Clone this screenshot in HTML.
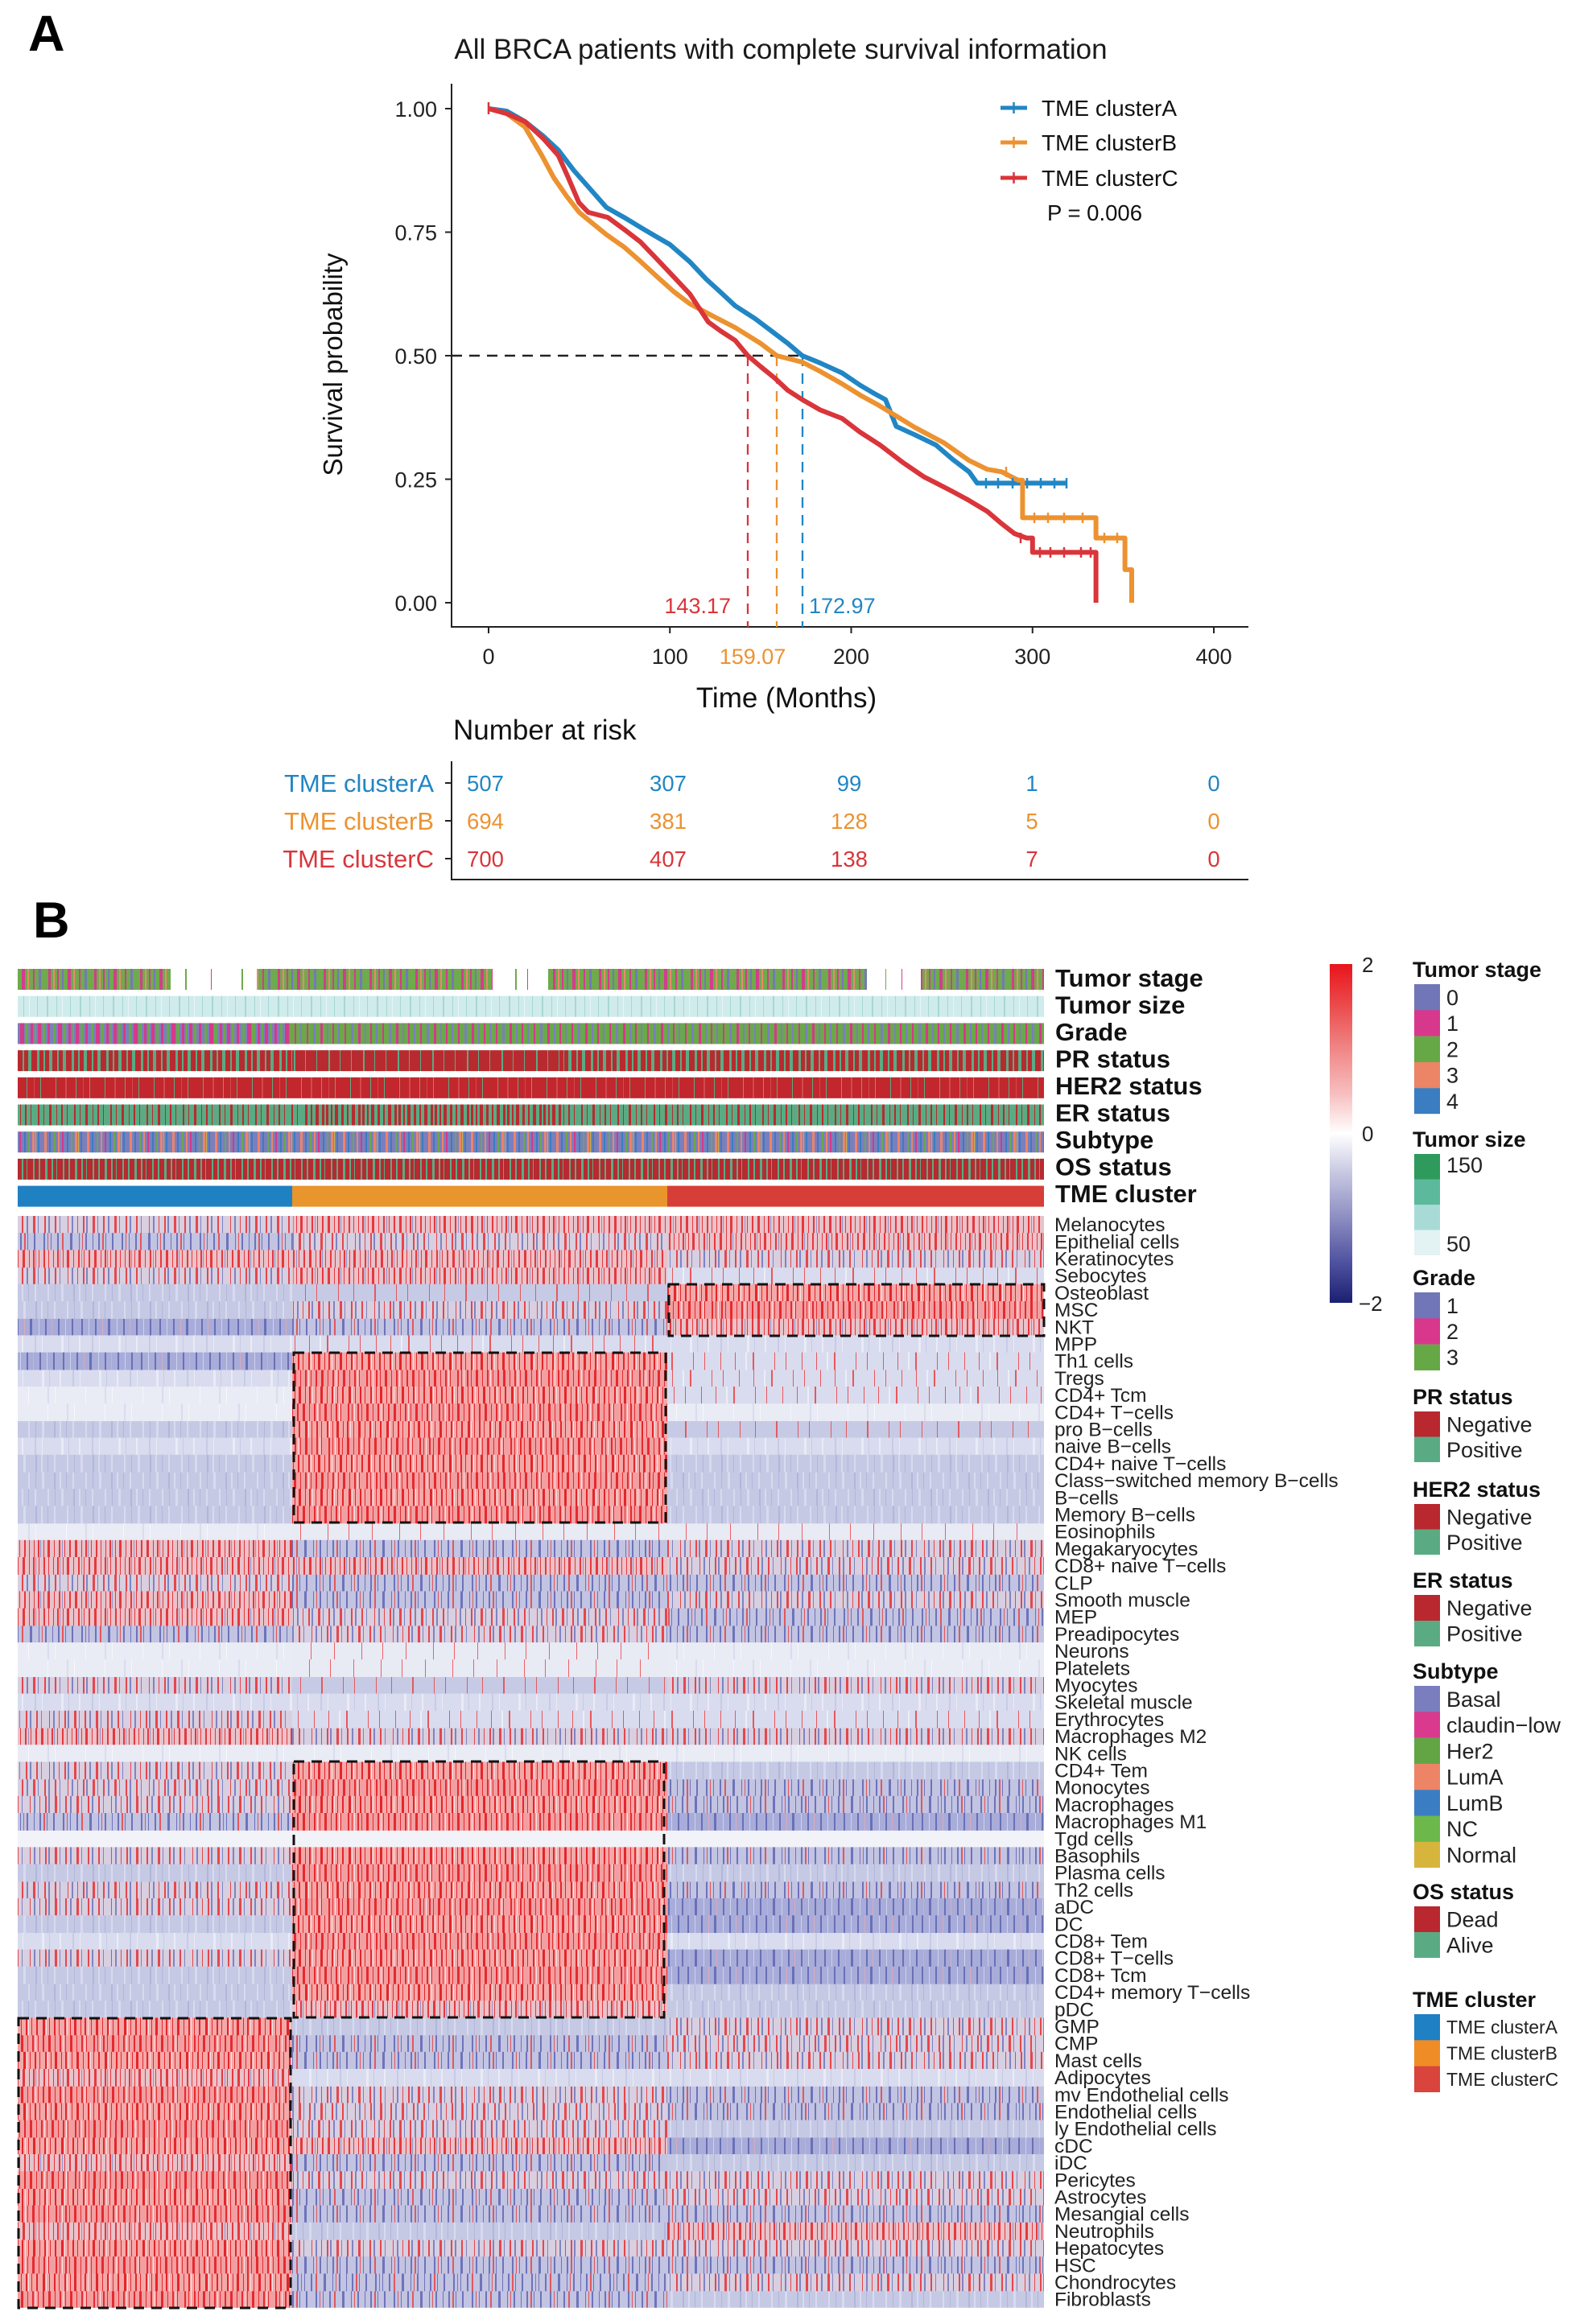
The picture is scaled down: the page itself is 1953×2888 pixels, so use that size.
<!DOCTYPE html>
<html><head><meta charset="utf-8"><style>
html,body{margin:0;padding:0;background:#fff;}
svg{display:block;}
.R1{fill:url(#R1)}.R2{fill:url(#R2)}.P{fill:url(#P)}.M{fill:url(#M)}.MB{fill:url(#MB)}.B{fill:url(#B)}
.L2{fill:url(#L2)}.L1{fill:url(#L1)}.L0{fill:url(#L0)}.W{fill:#f2f3f8}.L0r{fill:url(#L0r)}.L1r{fill:url(#L1r)}.L2r{fill:url(#L2r)}
</style></head><body>
<svg xmlns="http://www.w3.org/2000/svg" width="1953" height="2888" viewBox="0 0 1953 2888" font-family="'Liberation Sans', Arial, sans-serif">
<defs>
<pattern id="R1" patternUnits="userSpaceOnUse" width="101" height="1"><rect width="101" height="1" fill="#f4a9a9"/><g fill="#e3262b"><rect x="2" width="2" height="1"/><rect x="9" width="1" height="1"/><rect x="14" width="3" height="1"/><rect x="22" width="1" height="1"/><rect x="27" width="2" height="1"/><rect x="35" width="1" height="1"/><rect x="41" width="3" height="1"/><rect x="49" width="1" height="1"/><rect x="55" width="2" height="1"/><rect x="62" width="1" height="1"/><rect x="68" width="2" height="1"/><rect x="76" width="3" height="1"/><rect x="84" width="1" height="1"/><rect x="90" width="2" height="1"/><rect x="96" width="1" height="1"/></g><g fill="#fbe3e3"><rect x="5" width="1" height="1"/><rect x="31" width="1" height="1"/><rect x="58" width="1" height="1"/><rect x="80" width="1" height="1"/></g></pattern>
<pattern id="R2" patternUnits="userSpaceOnUse" width="113" height="1"><rect width="113" height="1" fill="#f29fa1"/><g fill="#e52a2f"><rect x="3" width="2" height="1"/><rect x="8" width="1" height="1"/><rect x="15" width="2" height="1"/><rect x="20" width="1" height="1"/><rect x="26" width="3" height="1"/><rect x="34" width="1" height="1"/><rect x="40" width="2" height="1"/><rect x="47" width="1" height="1"/><rect x="53" width="2" height="1"/><rect x="60" width="3" height="1"/><rect x="68" width="1" height="1"/><rect x="74" width="2" height="1"/><rect x="81" width="1" height="1"/><rect x="87" width="3" height="1"/><rect x="95" width="1" height="1"/><rect x="101" width="2" height="1"/><rect x="107" width="1" height="1"/></g><g fill="#fce6e6"><rect x="11" width="1" height="1"/><rect x="44" width="1" height="1"/><rect x="78" width="1" height="1"/><rect x="105" width="1" height="1"/></g></pattern>
<pattern id="P" patternUnits="userSpaceOnUse" width="89" height="1"><rect width="89" height="1" fill="#e9c2ca"/><g fill="#e4393e"><rect x="0" width="1" height="1"/><rect x="5" width="2" height="1"/><rect x="12" width="1" height="1"/><rect x="17" width="3" height="1"/><rect x="25" width="1" height="1"/><rect x="31" width="2" height="1"/><rect x="38" width="1" height="1"/><rect x="44" width="2" height="1"/><rect x="51" width="3" height="1"/><rect x="59" width="1" height="1"/><rect x="64" width="2" height="1"/><rect x="71" width="1" height="1"/><rect x="77" width="2" height="1"/><rect x="83" width="1" height="1"/></g><g fill="#9094c9"><rect x="8" width="1" height="1"/><rect x="35" width="1" height="1"/><rect x="67" width="1" height="1"/></g></pattern>
<pattern id="M" patternUnits="userSpaceOnUse" width="101" height="1"><rect width="101" height="1" fill="#d8cfe0"/><g fill="#e4474c"><rect x="2" width="2" height="1"/><rect x="14" width="3" height="1"/><rect x="27" width="2" height="1"/><rect x="41" width="3" height="1"/><rect x="55" width="2" height="1"/><rect x="68" width="2" height="1"/><rect x="84" width="1" height="1"/><rect x="96" width="1" height="1"/></g><g fill="#7f84c0"><rect x="6" width="2" height="1"/><rect x="20" width="1" height="1"/><rect x="33" width="2" height="1"/><rect x="47" width="1" height="1"/><rect x="60" width="2" height="1"/><rect x="74" width="1" height="1"/><rect x="89" width="2" height="1"/></g></pattern>
<pattern id="MB" patternUnits="userSpaceOnUse" width="97" height="1"><rect width="97" height="1" fill="#c2c4e2"/><g fill="#e1585c"><rect x="9" width="1" height="1"/><rect x="27" width="2" height="1"/><rect x="52" width="1" height="1"/><rect x="77" width="2" height="1"/></g><g fill="#6e73b9"><rect x="4" width="2" height="1"/><rect x="13" width="1" height="1"/><rect x="21" width="2" height="1"/><rect x="37" width="3" height="1"/><rect x="48" width="1" height="1"/><rect x="56" width="2" height="1"/><rect x="65" width="1" height="1"/><rect x="72" width="2" height="1"/><rect x="81" width="1" height="1"/><rect x="89" width="2" height="1"/></g></pattern>
<pattern id="B" patternUnits="userSpaceOnUse" width="97" height="1"><rect width="97" height="1" fill="#a8acd9"/><g fill="#6a6fb7"><rect x="4" width="2" height="1"/><rect x="21" width="2" height="1"/><rect x="37" width="3" height="1"/><rect x="56" width="2" height="1"/><rect x="72" width="2" height="1"/><rect x="89" width="2" height="1"/></g><g fill="#cfd2eb"><rect x="13" width="1" height="1"/><rect x="48" width="1" height="1"/><rect x="81" width="1" height="1"/></g><g fill="#dca9bd"><rect x="30" width="1" height="1"/><rect x="64" width="1" height="1"/></g></pattern>
<pattern id="L2" patternUnits="userSpaceOnUse" width="71" height="1"><rect width="71" height="1" fill="#c5c9e4"/><g fill="#d8dbef"><rect x="3" width="2" height="1"/><rect x="19" width="2" height="1"/><rect x="35" width="2" height="1"/><rect x="52" width="3" height="1"/></g><g fill="#b2b6db"><rect x="11" width="1" height="1"/><rect x="44" width="1" height="1"/><rect x="67" width="2" height="1"/></g></pattern>
<pattern id="L1" patternUnits="userSpaceOnUse" width="71" height="1"><rect width="71" height="1" fill="#d9dcee"/><g fill="#e9ebf6"><rect x="3" width="2" height="1"/><rect x="28" width="1" height="1"/><rect x="52" width="3" height="1"/></g><g fill="#c7cbe6"><rect x="19" width="2" height="1"/><rect x="61" width="1" height="1"/></g></pattern>
<pattern id="L0" patternUnits="userSpaceOnUse" width="71" height="1"><rect width="71" height="1" fill="#e9ebf5"/><g fill="#f6f7fb"><rect x="11" width="1" height="1"/><rect x="44" width="1" height="1"/></g><rect x="35" width="2" height="1" fill="#dadcee"/></pattern>
<pattern id="L0r" patternUnits="userSpaceOnUse" width="89" height="1"><rect width="89" height="1" fill="#e8eaf4"/><g fill="#ec6266"><rect x="17" width="1" height="1"/><rect x="51" width="1" height="1"/><rect x="77" width="1" height="1"/></g></pattern>
<pattern id="L1r" patternUnits="userSpaceOnUse" width="101" height="1"><rect width="101" height="1" fill="#d9dcee"/><g fill="#e8575c"><rect x="9" width="1" height="1"/><rect x="27" width="1" height="1"/><rect x="49" width="2" height="1"/><rect x="76" width="1" height="1"/><rect x="90" width="1" height="1"/></g><rect x="40" width="2" height="1" fill="#eceef7"/></pattern>
<pattern id="L2r" patternUnits="userSpaceOnUse" width="113" height="1"><rect width="113" height="1" fill="#c6cae5"/><g fill="#e55a5e"><rect x="15" width="1" height="1"/><rect x="34" width="1" height="1"/><rect x="60" width="2" height="1"/><rect x="87" width="1" height="1"/><rect x="101" width="1" height="1"/></g></pattern>

<pattern id="TS" patternUnits="userSpaceOnUse" width="57" height="40"><rect width="57" height="40" fill="#6faa4c"/><g fill="#d43d8c"><rect x="3" width="3" height="40"/><rect x="14" width="2" height="40"/><rect x="27" width="4" height="40"/><rect x="41" width="2" height="40"/></g><g fill="#e98a6c"><rect x="9" width="2" height="40"/><rect x="34" width="2" height="40"/></g><g fill="#7479b8"><rect x="20" width="2" height="40"/><rect x="48" width="3" height="40"/></g></pattern>
<pattern id="TSZ" patternUnits="userSpaceOnUse" width="41" height="40"><rect width="41" height="40" fill="#d0ebeb"/><g fill="#a7d7d3"><rect x="5" width="1" height="40"/><rect x="17" width="2" height="40"/><rect x="29" width="1" height="40"/></g><rect x="36" width="1" height="40" fill="#e8f5f5"/></pattern>
<pattern id="GR1" patternUnits="userSpaceOnUse" width="47" height="40"><rect width="47" height="40" fill="#7b7fbc"/><g fill="#d5398b"><rect x="0" width="4" height="40"/><rect x="12" width="3" height="40"/><rect x="25" width="5" height="40"/><rect x="38" width="3" height="40"/></g><g fill="#6aa84a"><rect x="6" width="3" height="40"/><rect x="19" width="3" height="40"/><rect x="31" width="4" height="40"/><rect x="43" width="2" height="40"/></g></pattern>
<pattern id="GR2" patternUnits="userSpaceOnUse" width="47" height="40"><rect width="47" height="40" fill="#6aa84a"/><g fill="#d5398b"><rect x="5" width="2" height="40"/><rect x="22" width="3" height="40"/><rect x="37" width="2" height="40"/></g><g fill="#7b7fbc"><rect x="13" width="3" height="40"/><rect x="30" width="2" height="40"/><rect x="44" width="2" height="40"/></g></pattern>
<pattern id="PR1" patternUnits="userSpaceOnUse" width="43" height="40"><rect width="43" height="40" fill="#b72b30"/><g fill="#5aab83"><rect x="3" width="3" height="40"/><rect x="11" width="2" height="40"/><rect x="18" width="4" height="40"/><rect x="28" width="2" height="40"/><rect x="35" width="4" height="40"/></g></pattern>
<pattern id="PR2" patternUnits="userSpaceOnUse" width="43" height="40"><rect width="43" height="40" fill="#b72b30"/><g fill="#5aab83"><rect x="6" width="1" height="40"/><rect x="21" width="2" height="40"/><rect x="35" width="1" height="40"/></g></pattern>
<pattern id="HER" patternUnits="userSpaceOnUse" width="61" height="40"><rect width="61" height="40" fill="#c1272d"/><g fill="#5aab83"><rect x="8" width="1" height="40"/><rect x="33" width="1" height="40"/><rect x="50" width="1" height="40"/></g><g fill="#d14a4f"><rect x="20" width="2" height="40"/><rect x="42" width="1" height="40"/></g></pattern>
<pattern id="ER1" patternUnits="userSpaceOnUse" width="45" height="40"><rect width="45" height="40" fill="#5aab83"/><g fill="#b72b30"><rect x="2" width="2" height="40"/><rect x="9" width="1" height="40"/><rect x="16" width="3" height="40"/><rect x="25" width="1" height="40"/><rect x="31" width="2" height="40"/><rect x="38" width="1" height="40"/></g></pattern>
<pattern id="ER2" patternUnits="userSpaceOnUse" width="45" height="40"><rect width="45" height="40" fill="#5aab83"/><g fill="#b72b30"><rect x="0" width="3" height="40"/><rect x="6" width="2" height="40"/><rect x="11" width="4" height="40"/><rect x="19" width="3" height="40"/><rect x="26" width="2" height="40"/><rect x="32" width="4" height="40"/><rect x="40" width="3" height="40"/></g></pattern>
<pattern id="SUB" patternUnits="userSpaceOnUse" width="53" height="40"><rect width="53" height="40" fill="#7b7fbc"/><g fill="#ec8468"><rect x="2" width="3" height="40"/><rect x="19" width="2" height="40"/><rect x="40" width="3" height="40"/></g><g fill="#3a7cc2"><rect x="8" width="2" height="40"/><rect x="30" width="2" height="40"/><rect x="47" width="2" height="40"/></g><g fill="#6aa84a"><rect x="14" width="2" height="40"/><rect x="35" width="2" height="40"/></g><rect x="24" width="2" height="40" fill="#d5398b"/><rect x="44" width="1" height="40" fill="#d6b23a"/></pattern>
<pattern id="OS" patternUnits="userSpaceOnUse" width="37" height="40"><rect width="37" height="40" fill="#b62a30"/><g fill="#5aab83"><rect x="4" width="2" height="40"/><rect x="11" width="2" height="40"/><rect x="19" width="3" height="40"/><rect x="27" width="2" height="40"/><rect x="33" width="1" height="40"/></g></pattern>

<linearGradient id="cbar" x1="0" y1="0" x2="0" y2="1">
<stop offset="0" stop-color="#e8141c"/><stop offset="0.12" stop-color="#eb4a4b"/><stop offset="0.25" stop-color="#f08686"/><stop offset="0.38" stop-color="#f7bdbd"/><stop offset="0.5" stop-color="#ffffff"/><stop offset="0.62" stop-color="#c6c6e1"/><stop offset="0.75" stop-color="#8c8dc1"/><stop offset="0.88" stop-color="#4f52a0"/><stop offset="1" stop-color="#1a2070"/>
</linearGradient>
</defs>

<rect width="1953" height="2888" fill="#ffffff"/>

<!-- ================= PANEL A ================= -->
<text x="35" y="63" font-size="63" font-weight="bold" fill="#000">A</text>
<text x="970" y="73" font-size="35" text-anchor="middle" fill="#1a1a1a">All BRCA patients with complete survival information</text>

<g stroke="#222" stroke-width="2" fill="none">
<path d="M561 104V780M560 779H1551"/>
<path d="M553 135H561M553 288.5H561M553 442H561M553 595.5H561M553 749H561"/>
<path d="M607 779V787M832.25 779V787M1057.5 779V787M1282.75 779V787M1508 779V787"/>
</g>
<g font-size="27" fill="#222" text-anchor="end">
<text x="543" y="145">1.00</text><text x="543" y="298.5">0.75</text><text x="543" y="452">0.50</text><text x="543" y="605.5">0.25</text><text x="543" y="759">0.00</text>
</g>
<g font-size="27" fill="#222" text-anchor="middle">
<text x="607" y="825">0</text><text x="832.25" y="825">100</text><text x="1057.5" y="825">200</text><text x="1282.75" y="825">300</text><text x="1508" y="825">400</text>
</g>
<text x="977" y="879" font-size="35" text-anchor="middle" fill="#111">Time (Months)</text>
<text x="425" y="453" font-size="33" text-anchor="middle" fill="#111" transform="rotate(-90 425 453)">Survival probability</text>

<path d="M561 442H997" stroke="#222" stroke-width="2.5" stroke-dasharray="13,9" fill="none"/>
<path d="M929 442V779" stroke="#d9353a" stroke-width="2.3" stroke-dasharray="13,9"/>
<path d="M965 442V779" stroke="#ec9230" stroke-width="2.3" stroke-dasharray="13,9"/>
<path d="M997 442V779" stroke="#2186c4" stroke-width="2.3" stroke-dasharray="13,9"/>

<g fill="none" stroke-width="6" stroke-linejoin="round">
<path stroke="#2186c4" d="M607,135 L629.5,138.1 L652.1,151 L674.6,168.8 L693.7,186.6 L712.9,211.8 L734.5,236.3 L753.4,257.8 L775.3,270.1 L798.5,284.2 L816.3,294.6 L832.3,303.9 L857,325.3 L877.3,346.8 L897.6,365.3 L913.3,380 L938.1,396 L958.4,411.3 L978.7,426.7 L996.7,442 L1019.2,451.2 L1046.2,463.5 L1068.8,478.8 L1084.5,488.1 L1100.1,496.6 L1113.4,529.8 L1136.3,540.2 L1162.9,553.1 L1183.6,570.9 L1203.9,586.3 L1214,600.4 L1325.5,600.4"/>
<path stroke="#ec9230" d="M607,135 L629.5,141.1 L652.1,157.7 L673.2,193.3 L688.1,221 L703.9,243.7 L719.6,263.9 L734.5,276.2 L753.4,291.6 L775.3,306.9 L796.2,325.3 L816.3,343.8 L836.8,362.2 L857,377.5 L880,389.8 L913.3,407 L944.9,426.7 L965.1,442 L996.7,450 L1019.2,461.6 L1046.2,477 L1068.8,491.1 L1091.3,503.4 L1113.4,516.9 L1136.3,531 L1172.4,550.1 L1203.9,572.2 L1226.4,583.2 L1244.5,586.3 L1264.7,596.7 L1270.4,596.7 V643.4 H1361.6 V668.6 H1397.6 V707.9 H1406 V749"/>
<path stroke="#d9353a" d="M607,135 L629.5,141.1 L652.1,151 L674.6,171.8 L693.7,193.3 L706.1,221 L719.2,251.7 L730.9,263.9 L755,270.1 L775.9,285.4 L795.8,300.8 L816.5,322.3 L836.8,343.8 L857,365.3 L880,400.2 L895.3,411.3 L913.3,423 L929.1,442 L944.9,455.5 L962.9,470.2 L978.7,485 L996.7,496.6 L1019.2,509.5 L1046.2,520 L1068.8,537.2 L1093.5,553.1 L1122.4,575.2 L1147.6,592.4 L1163.4,600.4 L1183.6,610.9 L1203.9,621.9 L1226.4,635.4 L1244.5,650.8 L1260.2,663 L1275.3,668.6 L1282.8,668.6 V686.4 H1361.6 V749"/>
</g>
<g stroke-width="2.5" fill="none">
<path stroke="#2186c4" d="M1225 594v13M1240 594v13M1258 594v13M1276 594v13M1293 594v13M1310 594v13M1325 594v13"/>
<path stroke="#ec9230" d="M1250 580v13M1285 637v13M1302 637v13M1322 637v13M1345 637v13M1372 662v13M1388 662v13"/>
<path stroke="#d9353a" d="M607 127v15M1268 662v13M1292 680v13M1305 680v13M1322 680v13M1343 680v13M1355 680v13"/>
</g>

<text x="908" y="762" font-size="27" text-anchor="end" fill="#d9353a">143.17</text>
<text x="1005" y="762" font-size="27" fill="#2186c4">172.97</text>
<text x="935" y="825" font-size="27" text-anchor="middle" fill="#ec9230">159.07</text>

<g stroke-width="5">
<path stroke="#2186c4" d="M1243 134H1276"/><path stroke="#2186c4" stroke-width="2.5" d="M1259.5 127v14"/>
<path stroke="#ec9230" d="M1243 177H1276"/><path stroke="#ec9230" stroke-width="2.5" d="M1259.5 170v14"/>
<path stroke="#d9353a" d="M1243 221H1276"/><path stroke="#d9353a" stroke-width="2.5" d="M1259.5 214v14"/>
</g>
<g font-size="28" fill="#111">
<text x="1294" y="144">TME clusterA</text>
<text x="1294" y="187">TME clusterB</text>
<text x="1294" y="231">TME clusterC</text>
<text x="1301" y="274" font-size="27.5">P = 0.006</text>
</g>

<text x="563" y="919" font-size="35" fill="#111">Number at risk</text>
<path d="M561 946V1094M560 1093H1551M553 973H561M553 1020H561M553 1067H561" stroke="#222" stroke-width="2" fill="none"/>
<g font-size="31" text-anchor="end">
<text x="539" y="984" fill="#2186c4">TME clusterA</text>
<text x="539" y="1031" fill="#ec9230">TME clusterB</text>
<text x="539" y="1078" fill="#d9353a">TME clusterC</text>
</g>
<g font-size="27.5" text-anchor="middle">
<g fill="#2186c4"><text x="603" y="983">507</text><text x="830" y="983">307</text><text x="1055" y="983">99</text><text x="1282" y="983">1</text><text x="1508" y="983">0</text></g>
<g fill="#ec9230"><text x="603" y="1030">694</text><text x="830" y="1030">381</text><text x="1055" y="1030">128</text><text x="1282" y="1030">5</text><text x="1508" y="1030">0</text></g>
<g fill="#d9353a"><text x="603" y="1077">700</text><text x="830" y="1077">407</text><text x="1055" y="1077">138</text><text x="1282" y="1077">7</text><text x="1508" y="1077">0</text></g>
</g>

<!-- ================= PANEL B ================= -->
<text x="41" y="1165" font-size="63" font-weight="bold" fill="#000">B</text>

<rect x="22" y="1204" width="1275" height="26" fill="url(#TS)"/>
<g fill="#fff"><rect x="212" y="1204" width="107" height="26"/><rect x="612" y="1204" width="69" height="26"/><rect x="1077" y="1204" width="67" height="26"/></g>
<g fill="#6faa4c"><rect x="230" y="1204" width="2" height="26"/><rect x="300" y="1204" width="2" height="26"/><rect x="640" y="1204" width="2" height="26"/><rect x="1100" y="1204" width="1" height="26"/></g>
<g fill="#d43d8c"><rect x="262" y="1204" width="1" height="26"/><rect x="655" y="1204" width="1" height="26"/><rect x="1120" y="1204" width="1" height="26"/></g>
<rect x="22" y="1237.7" width="1275" height="26" fill="url(#TSZ)"/>
<rect x="22" y="1271.4" width="341" height="26" fill="url(#GR1)"/>
<rect x="363" y="1271.4" width="934" height="26" fill="url(#GR2)"/>
<rect x="22" y="1305.1" width="341" height="26" fill="url(#PR1)"/>
<rect x="363" y="1305.1" width="337" height="26" fill="url(#PR2)"/>
<rect x="700" y="1305.1" width="597" height="26" fill="url(#PR1)"/>
<rect x="22" y="1338.8" width="1275" height="26" fill="url(#HER)"/>
<rect x="22" y="1372.5" width="353" height="26" fill="url(#ER1)"/>
<rect x="375" y="1372.5" width="325" height="26" fill="url(#ER2)"/>
<rect x="700" y="1372.5" width="597" height="26" fill="url(#ER1)"/>
<rect x="22" y="1406.2" width="1275" height="26" fill="url(#SUB)"/>
<rect x="22" y="1439.9" width="1275" height="26" fill="url(#OS)"/>
<rect x="22" y="1473.6" width="341" height="26" fill="#1f80c2"/>
<rect x="363" y="1473.6" width="466" height="26" fill="#e8952e"/>
<rect x="829" y="1473.6" width="468" height="26" fill="#d63e37"/>

<g font-size="31" font-weight="bold" fill="#111">
<text x="1311" y="1226">Tumor stage</text>
<text x="1311" y="1259.5">Tumor size</text>
<text x="1311" y="1293">Grade</text>
<text x="1311" y="1326.5">PR status</text>
<text x="1311" y="1360">HER2 status</text>
<text x="1311" y="1393.5">ER status</text>
<text x="1311" y="1427">Subtype</text>
<text x="1311" y="1460.5">OS status</text>
<text x="1311" y="1494">TME cluster</text>
</g>

<!-- heatmap -->
<g transform="translate(0,1511) scale(1,21.2)">
<g>
<rect class="M" x="22" y="0" width="341" height="1.03"/><rect class="P" x="363" y="0" width="466" height="1.03"/><rect class="P" x="829" y="0" width="468" height="1.03"/>
<rect class="M" x="22" y="3" width="341" height="1.03"/><rect class="P" x="363" y="3" width="466" height="1.03"/><rect class="L1r" x="829" y="3" width="468" height="1.03"/>
<rect class="B" x="22" y="6" width="341" height="1.03"/><rect class="MB" x="363" y="6" width="466" height="1.03"/><rect class="P" x="829" y="6" width="468" height="1.03"/>
<rect class="L1" x="22" y="9" width="341" height="1.03"/><rect class="R2" x="363" y="9" width="466" height="1.03"/><rect class="L1r" x="829" y="9" width="468" height="1.03"/>
<rect class="L2" x="22" y="12" width="341" height="1.03"/><rect class="R1" x="363" y="12" width="466" height="1.03"/><rect class="L2r" x="829" y="12" width="468" height="1.03"/>
<rect class="L2" x="22" y="15" width="341" height="1.03"/><rect class="R2" x="363" y="15" width="466" height="1.03"/><rect class="L2" x="829" y="15" width="468" height="1.03"/>
<rect class="L0" x="22" y="18" width="341" height="1.03"/><rect class="L0r" x="363" y="18" width="466" height="1.03"/><rect class="L0r" x="829" y="18" width="468" height="1.03"/>
<rect class="M" x="22" y="21" width="341" height="1.03"/><rect class="MB" x="363" y="21" width="466" height="1.03"/><rect class="MB" x="829" y="21" width="468" height="1.03"/>
<rect class="MB" x="22" y="24" width="341" height="1.03"/><rect class="M" x="363" y="24" width="466" height="1.03"/><rect class="MB" x="829" y="24" width="468" height="1.03"/>
<rect class="M" x="22" y="27" width="341" height="1.03"/><rect class="L2r" x="363" y="27" width="466" height="1.03"/><rect class="M" x="829" y="27" width="468" height="1.03"/>
<rect class="P" x="22" y="30" width="341" height="1.03"/><rect class="M" x="363" y="30" width="466" height="1.03"/><rect class="M" x="829" y="30" width="468" height="1.03"/>
<rect class="M" x="22" y="33" width="341" height="1.03"/><rect class="R2" x="363" y="33" width="466" height="1.03"/><rect class="MB" x="829" y="33" width="468" height="1.03"/>
<rect class="W" x="22" y="36" width="1275" height="1.03"/>
<rect class="M" x="22" y="39" width="341" height="1.03"/><rect class="R1" x="363" y="39" width="466" height="1.03"/><rect class="MB" x="829" y="39" width="468" height="1.03"/>
<rect class="L1" x="22" y="42" width="341" height="1.03"/><rect class="R2" x="363" y="42" width="466" height="1.03"/><rect class="L1" x="829" y="42" width="468" height="1.03"/>
<rect class="L2" x="22" y="45" width="341" height="1.03"/><rect class="R1" x="363" y="45" width="466" height="1.03"/><rect class="L2" x="829" y="45" width="468" height="1.03"/>
<rect class="R2" x="22" y="48" width="341" height="1.03"/><rect class="MB" x="363" y="48" width="466" height="1.03"/><rect class="M" x="829" y="48" width="468" height="1.03"/>
<rect class="R2" x="22" y="51" width="341" height="1.03"/><rect class="M" x="363" y="51" width="466" height="1.03"/><rect class="MB" x="829" y="51" width="468" height="1.03"/>
<rect class="R1" x="22" y="54" width="341" height="1.03"/><rect class="P" x="363" y="54" width="466" height="1.03"/><rect class="B" x="829" y="54" width="468" height="1.03"/>
<rect class="R1" x="22" y="57" width="341" height="1.03"/><rect class="MB" x="363" y="57" width="466" height="1.03"/><rect class="M" x="829" y="57" width="468" height="1.03"/>
<rect class="R1" x="22" y="60" width="341" height="1.03"/><rect class="M" x="363" y="60" width="466" height="1.03"/><rect class="M" x="829" y="60" width="468" height="1.03"/>
<rect class="R2" x="22" y="63" width="341" height="1"/><rect class="MB" x="363" y="63" width="466" height="1"/><rect class="L2" x="829" y="63" width="468" height="1"/>
</g>
<g transform="translate(-47,0)">
<rect class="MB" x="69" y="1" width="341" height="1.03"/><rect class="M" x="410" y="1" width="466" height="1.03"/><rect class="P" x="876" y="1" width="468" height="1.03"/>
<rect class="L2" x="69" y="4" width="341" height="1.03"/><rect class="L2r" x="410" y="4" width="466" height="1.03"/><rect class="R1" x="876" y="4" width="468" height="1.03"/>
<rect class="L1" x="69" y="7" width="341" height="1.03"/><rect class="L1r" x="410" y="7" width="466" height="1.03"/><rect class="L1" x="876" y="7" width="468" height="1.03"/>
<rect class="L0" x="69" y="10" width="341" height="1.03"/><rect class="R1" x="410" y="10" width="466" height="1.03"/><rect class="L1r" x="876" y="10" width="468" height="1.03"/>
<rect class="L1" x="69" y="13" width="341" height="1.03"/><rect class="R2" x="410" y="13" width="466" height="1.03"/><rect class="L1" x="876" y="13" width="468" height="1.03"/>
<rect class="L2" x="69" y="16" width="341" height="1.03"/><rect class="R1" x="410" y="16" width="466" height="1.03"/><rect class="L2" x="876" y="16" width="468" height="1.03"/>
<rect class="P" x="69" y="19" width="341" height="1.03"/><rect class="MB" x="410" y="19" width="466" height="1.03"/><rect class="M" x="876" y="19" width="468" height="1.03"/>
<rect class="P" x="69" y="22" width="341" height="1.03"/><rect class="MB" x="410" y="22" width="466" height="1.03"/><rect class="M" x="876" y="22" width="468" height="1.03"/>
<rect class="L0" x="69" y="25" width="341" height="1.03"/><rect class="L0r" x="410" y="25" width="466" height="1.03"/><rect class="L0" x="876" y="25" width="468" height="1.03"/>
<rect class="L1" x="69" y="28" width="341" height="1.03"/><rect class="L1" x="410" y="28" width="466" height="1.03"/><rect class="L1" x="876" y="28" width="468" height="1.03"/>
<rect class="L0" x="69" y="31" width="341" height="1.03"/><rect class="L0" x="410" y="31" width="466" height="1.03"/><rect class="L0" x="876" y="31" width="468" height="1.03"/>
<rect class="M" x="69" y="34" width="341" height="1.03"/><rect class="R1" x="410" y="34" width="466" height="1.03"/><rect class="MB" x="876" y="34" width="468" height="1.03"/>
<rect class="M" x="69" y="37" width="341" height="1.03"/><rect class="R1" x="410" y="37" width="466" height="1.03"/><rect class="MB" x="876" y="37" width="468" height="1.03"/>
<rect class="M" x="69" y="40" width="341" height="1.03"/><rect class="R2" x="410" y="40" width="466" height="1.03"/><rect class="B" x="876" y="40" width="468" height="1.03"/>
<rect class="M" x="69" y="43" width="341" height="1.03"/><rect class="R1" x="410" y="43" width="466" height="1.03"/><rect class="B" x="876" y="43" width="468" height="1.03"/>
<rect class="L2" x="69" y="46" width="341" height="1.03"/><rect class="P" x="410" y="46" width="466" height="1.03"/><rect class="L2" x="876" y="46" width="468" height="1.03"/>
<rect class="R1" x="69" y="49" width="341" height="1.03"/><rect class="MB" x="410" y="49" width="466" height="1.03"/><rect class="M" x="876" y="49" width="468" height="1.03"/>
<rect class="R1" x="69" y="52" width="341" height="1.03"/><rect class="M" x="410" y="52" width="466" height="1.03"/><rect class="MB" x="876" y="52" width="468" height="1.03"/>
<rect class="P" x="69" y="55" width="341" height="1.03"/><rect class="MB" x="410" y="55" width="466" height="1.03"/><rect class="L2" x="876" y="55" width="468" height="1.03"/>
<rect class="R2" x="69" y="58" width="341" height="1.03"/><rect class="MB" x="410" y="58" width="466" height="1.03"/><rect class="MB" x="876" y="58" width="468" height="1.03"/>
<rect class="R2" x="69" y="61" width="341" height="1.03"/><rect class="MB" x="410" y="61" width="466" height="1.03"/><rect class="MB" x="876" y="61" width="468" height="1.03"/>
</g>
<g transform="translate(-23,0)">
<rect class="P" x="45" y="2" width="341" height="1.03"/><rect class="P" x="386" y="2" width="466" height="1.03"/><rect class="M" x="852" y="2" width="468" height="1.03"/>
<rect class="L2" x="45" y="5" width="341" height="1.03"/><rect class="M" x="386" y="5" width="466" height="1.03"/><rect class="R2" x="852" y="5" width="468" height="1.03"/>
<rect class="B" x="45" y="8" width="341" height="1.03"/><rect class="R1" x="386" y="8" width="466" height="1.03"/><rect class="L1r" x="852" y="8" width="468" height="1.03"/>
<rect class="L0" x="45" y="11" width="341" height="1.03"/><rect class="R2" x="386" y="11" width="466" height="1.03"/><rect class="L0" x="852" y="11" width="468" height="1.03"/>
<rect class="L2" x="45" y="14" width="341" height="1.03"/><rect class="R1" x="386" y="14" width="466" height="1.03"/><rect class="L2" x="852" y="14" width="468" height="1.03"/>
<rect class="L2" x="45" y="17" width="341" height="1.03"/><rect class="R2" x="386" y="17" width="466" height="1.03"/><rect class="L2" x="852" y="17" width="468" height="1.03"/>
<rect class="P" x="45" y="20" width="341" height="1.03"/><rect class="P" x="386" y="20" width="466" height="1.03"/><rect class="M" x="852" y="20" width="468" height="1.03"/>
<rect class="P" x="45" y="23" width="341" height="1.03"/><rect class="M" x="386" y="23" width="466" height="1.03"/><rect class="MB" x="852" y="23" width="468" height="1.03"/>
<rect class="L0" x="45" y="26" width="341" height="1.03"/><rect class="L0r" x="386" y="26" width="466" height="1.03"/><rect class="L0" x="852" y="26" width="468" height="1.03"/>
<rect class="M" x="45" y="29" width="341" height="1.03"/><rect class="L1r" x="386" y="29" width="466" height="1.03"/><rect class="L1r" x="852" y="29" width="468" height="1.03"/>
<rect class="M" x="45" y="32" width="341" height="1.03"/><rect class="R1" x="386" y="32" width="466" height="1.03"/><rect class="L2" x="852" y="32" width="468" height="1.03"/>
<rect class="MB" x="45" y="35" width="341" height="1.03"/><rect class="R2" x="386" y="35" width="466" height="1.03"/><rect class="B" x="852" y="35" width="468" height="1.03"/>
<rect class="L2" x="45" y="38" width="341" height="1.03"/><rect class="R2" x="386" y="38" width="466" height="1.03"/><rect class="L2" x="852" y="38" width="468" height="1.03"/>
<rect class="L2" x="45" y="41" width="341" height="1.03"/><rect class="R1" x="386" y="41" width="466" height="1.03"/><rect class="B" x="852" y="41" width="468" height="1.03"/>
<rect class="L2" x="45" y="44" width="341" height="1.03"/><rect class="R2" x="386" y="44" width="466" height="1.03"/><rect class="B" x="852" y="44" width="468" height="1.03"/>
<rect class="R1" x="45" y="47" width="341" height="1.03"/><rect class="L2" x="386" y="47" width="466" height="1.03"/><rect class="M" x="852" y="47" width="468" height="1.03"/>
<rect class="P" x="45" y="50" width="341" height="1.03"/><rect class="L1" x="386" y="50" width="466" height="1.03"/><rect class="L1" x="852" y="50" width="468" height="1.03"/>
<rect class="R2" x="45" y="53" width="341" height="1.03"/><rect class="M" x="386" y="53" width="466" height="1.03"/><rect class="L2" x="852" y="53" width="468" height="1.03"/>
<rect class="R2" x="45" y="56" width="341" height="1.03"/><rect class="M" x="386" y="56" width="466" height="1.03"/><rect class="M" x="852" y="56" width="468" height="1.03"/>
<rect class="P" x="45" y="59" width="341" height="1.03"/><rect class="L2" x="386" y="59" width="466" height="1.03"/><rect class="P" x="852" y="59" width="468" height="1.03"/>
<rect class="R1" x="45" y="62" width="341" height="1.03"/><rect class="MB" x="386" y="62" width="466" height="1.03"/><rect class="M" x="852" y="62" width="468" height="1.03"/>
</g>
</g>

<g fill="none" stroke="#111" stroke-width="3" stroke-dasharray="13,9">
<rect x="831" y="1596" width="466" height="64"/>
<rect x="365" y="1681" width="462" height="211"/>
<rect x="365" y="2189" width="460" height="318"/>
<rect x="23" y="2508" width="338" height="360"/>
</g>

<text x="1310" y="1530.1" font-size="24.5" fill="#222"><tspan x="1310">Melanocytes</tspan><tspan x="1310" dy="21.2">Epithelial cells</tspan><tspan x="1310" dy="21.2">Keratinocytes</tspan><tspan x="1310" dy="21.2">Sebocytes</tspan><tspan x="1310" dy="21.2">Osteoblast</tspan><tspan x="1310" dy="21.2">MSC</tspan><tspan x="1310" dy="21.2">NKT</tspan><tspan x="1310" dy="21.2">MPP</tspan><tspan x="1310" dy="21.2">Th1 cells</tspan><tspan x="1310" dy="21.2">Tregs</tspan><tspan x="1310" dy="21.2">CD4+ Tcm</tspan><tspan x="1310" dy="21.2">CD4+ T−cells</tspan><tspan x="1310" dy="21.2">pro B−cells</tspan><tspan x="1310" dy="21.2">naive B−cells</tspan><tspan x="1310" dy="21.2">CD4+ naive T−cells</tspan><tspan x="1310" dy="21.2">Class−switched memory B−cells</tspan><tspan x="1310" dy="21.2">B−cells</tspan><tspan x="1310" dy="21.2">Memory B−cells</tspan><tspan x="1310" dy="21.2">Eosinophils</tspan><tspan x="1310" dy="21.2">Megakaryocytes</tspan><tspan x="1310" dy="21.2">CD8+ naive T−cells</tspan><tspan x="1310" dy="21.2">CLP</tspan><tspan x="1310" dy="21.2">Smooth muscle</tspan><tspan x="1310" dy="21.2">MEP</tspan><tspan x="1310" dy="21.2">Preadipocytes</tspan><tspan x="1310" dy="21.2">Neurons</tspan><tspan x="1310" dy="21.2">Platelets</tspan><tspan x="1310" dy="21.2">Myocytes</tspan><tspan x="1310" dy="21.2">Skeletal muscle</tspan><tspan x="1310" dy="21.2">Erythrocytes</tspan><tspan x="1310" dy="21.2">Macrophages M2</tspan><tspan x="1310" dy="21.2">NK cells</tspan><tspan x="1310" dy="21.2">CD4+ Tem</tspan><tspan x="1310" dy="21.2">Monocytes</tspan><tspan x="1310" dy="21.2">Macrophages</tspan><tspan x="1310" dy="21.2">Macrophages M1</tspan><tspan x="1310" dy="21.2">Tgd cells</tspan><tspan x="1310" dy="21.2">Basophils</tspan><tspan x="1310" dy="21.2">Plasma cells</tspan><tspan x="1310" dy="21.2">Th2 cells</tspan><tspan x="1310" dy="21.2">aDC</tspan><tspan x="1310" dy="21.2">DC</tspan><tspan x="1310" dy="21.2">CD8+ Tem</tspan><tspan x="1310" dy="21.2">CD8+ T−cells</tspan><tspan x="1310" dy="21.2">CD8+ Tcm</tspan><tspan x="1310" dy="21.2">CD4+ memory T−cells</tspan><tspan x="1310" dy="21.2">pDC</tspan><tspan x="1310" dy="21.2">GMP</tspan><tspan x="1310" dy="21.2">CMP</tspan><tspan x="1310" dy="21.2">Mast cells</tspan><tspan x="1310" dy="21.2">Adipocytes</tspan><tspan x="1310" dy="21.2">mv Endothelial cells</tspan><tspan x="1310" dy="21.2">Endothelial cells</tspan><tspan x="1310" dy="21.2">ly Endothelial cells</tspan><tspan x="1310" dy="21.2">cDC</tspan><tspan x="1310" dy="21.2">iDC</tspan><tspan x="1310" dy="21.2">Pericytes</tspan><tspan x="1310" dy="21.2">Astrocytes</tspan><tspan x="1310" dy="21.2">Mesangial cells</tspan><tspan x="1310" dy="21.2">Neutrophils</tspan><tspan x="1310" dy="21.2">Hepatocytes</tspan><tspan x="1310" dy="21.2">HSC</tspan><tspan x="1310" dy="21.2">Chondrocytes</tspan><tspan x="1310" dy="21.2">Fibroblasts</tspan></text>

<rect x="1652" y="1198" width="28" height="421" fill="url(#cbar)"/>
<g font-size="26" fill="#222">
<text x="1692" y="1208">2</text><text x="1692" y="1418">0</text><text x="1688" y="1629">−2</text>
</g>

<g font-size="27" font-weight="bold" fill="#111">
<text x="1755" y="1214">Tumor stage</text>
<text x="1755" y="1425">Tumor size</text>
<text x="1755" y="1597">Grade</text>
<text x="1755" y="1745">PR status</text>
<text x="1755" y="1860">HER2 status</text>
<text x="1755" y="1973">ER status</text>
<text x="1755" y="2086">Subtype</text>
<text x="1755" y="2360">OS status</text>
<text x="1755" y="2494">TME cluster</text>
</g>
<g>
<rect x="1757" y="1223" width="32" height="32.5" fill="#7176b8"/>
<rect x="1757" y="1255.3" width="32" height="32.5" fill="#d7388b"/>
<rect x="1757" y="1287.6" width="32" height="32.5" fill="#67a846"/>
<rect x="1757" y="1319.9" width="32" height="32.5" fill="#ec8466"/>
<rect x="1757" y="1352.2" width="32" height="32" fill="#3a7dc0"/>
<rect x="1757" y="1434" width="32" height="31.7" fill="#2e9a5c"/>
<rect x="1757" y="1465.5" width="32" height="31.7" fill="#5db99b"/>
<rect x="1757" y="1497" width="32" height="31.7" fill="#a8dbd6"/>
<rect x="1757" y="1528.5" width="32" height="31.5" fill="#e3f2f3"/>
<rect x="1757" y="1606" width="32" height="32.5" fill="#7176b8"/>
<rect x="1757" y="1638.3" width="32" height="32.5" fill="#d7388b"/>
<rect x="1757" y="1670.6" width="32" height="32.4" fill="#67a846"/>
<rect x="1757" y="1754" width="32" height="31.7" fill="#b8282e"/>
<rect x="1757" y="1785.5" width="32" height="31.5" fill="#5aab83"/>
<rect x="1757" y="1869" width="32" height="31.7" fill="#b8282e"/>
<rect x="1757" y="1900.5" width="32" height="31.5" fill="#5aab83"/>
<rect x="1757" y="1982" width="32" height="32.2" fill="#b8282e"/>
<rect x="1757" y="2014" width="32" height="32" fill="#5aab83"/>
<rect x="1757" y="2095" width="32" height="32.5" fill="#7a7ebf"/>
<rect x="1757" y="2127.3" width="32" height="32.5" fill="#d93a8e"/>
<rect x="1757" y="2159.6" width="32" height="32.5" fill="#63a545"/>
<rect x="1757" y="2191.9" width="32" height="32.5" fill="#ee8466"/>
<rect x="1757" y="2224.2" width="32" height="32.5" fill="#3b7dc2"/>
<rect x="1757" y="2256.5" width="32" height="32.5" fill="#6cb84b"/>
<rect x="1757" y="2288.8" width="32" height="32.2" fill="#d7b53c"/>
<rect x="1757" y="2369" width="32" height="32.2" fill="#b8282e"/>
<rect x="1757" y="2401" width="32" height="32" fill="#5aab83"/>
<rect x="1757" y="2503" width="32" height="32.5" fill="#1f80c3"/>
<rect x="1757" y="2535.3" width="32" height="32.5" fill="#ef8c25"/>
<rect x="1757" y="2567.6" width="32" height="32.4" fill="#d9443c"/>
</g>
<g font-size="27" fill="#222">
<text x="1797" y="1249">0</text><text x="1797" y="1281">1</text><text x="1797" y="1313.5">2</text><text x="1797" y="1345.5">3</text><text x="1797" y="1378">4</text>
<text x="1797" y="1457">150</text><text x="1797" y="1555">50</text>
<text x="1797" y="1632">1</text><text x="1797" y="1664">2</text><text x="1797" y="1696">3</text>
<text x="1797" y="1779.5">Negative</text><text x="1797" y="1811">Positive</text>
<text x="1797" y="1894.5">Negative</text><text x="1797" y="1926">Positive</text>
<text x="1797" y="2007.5">Negative</text><text x="1797" y="2039.5">Positive</text>
<text x="1797" y="2121">Basal</text><text x="1797" y="2153">claudin−low</text><text x="1797" y="2185.5">Her2</text><text x="1797" y="2217.5">LumA</text><text x="1797" y="2250">LumB</text><text x="1797" y="2282">NC</text><text x="1797" y="2314.5">Normal</text>
<text x="1797" y="2394.5">Dead</text><text x="1797" y="2426.5">Alive</text>
</g>
<g font-size="23" fill="#222">
<text x="1797" y="2527">TME clusterA</text><text x="1797" y="2559.5">TME clusterB</text><text x="1797" y="2592">TME clusterC</text>
</g>
</svg>
</body></html>
